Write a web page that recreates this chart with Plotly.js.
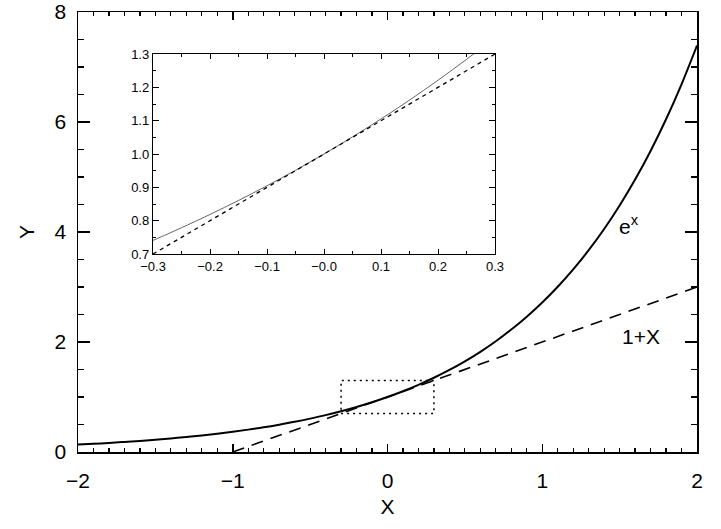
<!DOCTYPE html>
<html>
<head>
<meta charset="utf-8">
<script src="https://cdn.plot.ly/plotly-3.0.1.min.js"></script>
<style>html,body{margin:0;padding:0;background:#fff;}#chart{width:721px;height:529px;}</style>
</head>
<body>
<div id="chart"></div>
<script>
// Main panel: e^x curve
const mainX = [-2.0,-1.9,-1.8,-1.7,-1.6,-1.5,-1.4,-1.3,-1.2,-1.1,-1.0,-0.9,-0.8,-0.7,-0.6,-0.5,-0.4,-0.3,-0.2,-0.1,0.0,
               0.1,0.2,0.3,0.4,0.5,0.6,0.7,0.8,0.9,1.0,1.1,1.2,1.3,1.4,1.5,1.6,1.7,1.8,1.9,2.0];
const mainExpY = [0.135,0.150,0.165,0.183,0.202,0.223,0.247,0.273,0.301,0.333,0.368,0.407,0.449,0.497,0.549,0.607,0.670,0.741,0.819,0.905,1.000,
                  1.105,1.221,1.350,1.492,1.649,1.822,2.014,2.226,2.460,2.718,3.004,3.320,3.669,4.055,4.482,4.953,5.474,6.050,6.686,7.389];
// Main panel: 1+x line
const lineX = [-1.0,-0.5,0.0,0.5,1.0,1.5,2.0];
const lineY = [0.0,0.5,1.0,1.5,2.0,2.5,3.0];
// Inset: e^x zoom
const insetX = [-0.300,-0.275,-0.250,-0.225,-0.200,-0.175,-0.150,-0.125,-0.100,-0.075,-0.050,-0.025,0.000,
                0.025,0.050,0.075,0.100,0.125,0.150,0.175,0.200,0.225,0.250,0.275,0.300];
const insetExpY = [0.7408,0.7596,0.7788,0.7985,0.8187,0.8395,0.8607,0.8825,0.9048,0.9277,0.9512,0.9753,1.0000,
                   1.0253,1.0513,1.0779,1.1052,1.1331,1.1618,1.1912,1.2214,1.2523,1.2840,1.3165,1.3499];
const insetLineX = [-0.3,-0.15,0.0,0.15,0.3];
const insetLineY = [0.7,0.85,1.0,1.15,1.3];
// Axis ranges and tick labels
const mainXRange = [-2, 2];
const mainYRange = [0, 8];
const insetXRange = [-0.3, 0.3];
const insetYRange = [0.7, 1.3];
const mainXTicks = [-2,-1,0,1,2];
const mainXTickText = ['\u22122','\u22121','0','1','2'];
const mainYTicks = [0,2,4,6,8];
const insetXTicks = [-0.3,-0.2,-0.1,0.0,0.1,0.2,0.3];
const insetXTickText = ['\u22120.3','\u22120.2','\u22120.1','\u22120.0','0.1','0.2','0.3'];
const insetYTicks = [0.7,0.8,0.9,1.0,1.1,1.2,1.3];
const insetYTickText = ['0.7','0.8','0.9','1.0','1.1','1.2','1.3'];

const FONT = 'Liberation Sans, Arial, sans-serif';
const INK = '#000';

const traces = [
  {x: mainX, y: mainExpY, mode: 'lines', line: {color: INK, width: 2, shape: 'spline'}, xaxis: 'x', yaxis: 'y', hoverinfo: 'skip'},
  {x: lineX, y: lineY, mode: 'lines', line: {color: INK, width: 1.6, dash: '12px,8px'}, xaxis: 'x', yaxis: 'y', hoverinfo: 'skip'},
  {x: insetX, y: insetExpY, mode: 'lines', line: {color: '#666', width: 1, shape: 'spline'}, xaxis: 'x2', yaxis: 'y2', hoverinfo: 'skip'},
  {x: insetLineX, y: insetLineY, mode: 'lines', line: {color: INK, width: 1.3, dash: '4px,4px'}, xaxis: 'x2', yaxis: 'y2', hoverinfo: 'skip'}
];

const mainAxisCommon = {
  showgrid: false, zeroline: false, showline: true, linecolor: INK, linewidth: 1.5,
  mirror: 'ticks', ticks: 'inside', tickcolor: INK, tickwidth: 1.5,
  tickfont: {family: FONT, size: 21, color: INK}
};
const insetAxisCommon = {
  showgrid: false, zeroline: false, showline: true, linecolor: INK, linewidth: 1.2,
  mirror: 'ticks', ticks: 'inside', tickcolor: INK, tickwidth: 1,
  tickfont: {family: FONT, size: 13, color: INK}
};

const layout = {
  width: 721, height: 529,
  margin: {l: 78, r: 24, t: 12, b: 77},
  paper_bgcolor: '#fff', plot_bgcolor: '#fff',
  showlegend: false,
  xaxis: Object.assign({}, mainAxisCommon, {
    range: mainXRange, tickvals: mainXTicks, ticktext: mainXTickText, ticklen: 8,
    minor: {dtick: 0.1, ticklen: 4, ticks: 'inside', tickcolor: INK, tickwidth: 1.2},
    ticklabelstandoff: 9,
    title: {text: 'X', font: {family: FONT, size: 21, color: INK}, standoff: 8}
  }),
  yaxis: Object.assign({}, mainAxisCommon, {
    range: mainYRange, tickvals: mainYTicks, ticklen: 12,
    minor: {dtick: 0.5, ticklen: 6, ticks: 'inside', tickcolor: INK, tickwidth: 1.2},
    ticklabelstandoff: 6,
    title: {text: 'Y', font: {family: FONT, size: 21, color: INK}, standoff: 14}
  }),
  xaxis2: Object.assign({}, insetAxisCommon, {
    domain: [0.1212, 0.6737], anchor: 'y2',
    range: insetXRange, tickvals: insetXTicks, ticktext: insetXTickText, ticklen: 5,
    minor: {dtick: 0.05, ticklen: 3, ticks: 'inside', tickcolor: INK, tickwidth: 1}
  }),
  yaxis2: Object.assign({}, insetAxisCommon, {
    domain: [0.45, 0.9045], anchor: 'x2',
    range: insetYRange, tickvals: insetYTicks, ticktext: insetYTickText, ticklen: 6,
    minor: {dtick: 0.05, ticklen: 3, ticks: 'inside', tickcolor: INK, tickwidth: 1}
  }),
  shapes: [
    {type: 'rect', xref: 'x', yref: 'y', x0: insetXRange[0], x1: insetXRange[1], y0: insetYRange[0], y1: insetYRange[1],
     line: {color: INK, width: 1.5, dash: '2px,4px'}, fillcolor: 'rgba(0,0,0,0)'}
  ],
  annotations: [
    {xref: 'x', yref: 'y', x: 1.56, y: 4.12, text: 'e<sup>x</sup>', showarrow: false,
     font: {family: FONT, size: 21, color: INK}},
    {xref: 'x', yref: 'y', x: 1.64, y: 2.1, text: '1+X', showarrow: false,
     font: {family: FONT, size: 21, color: INK}}
  ]
};

Plotly.newPlot('chart', traces, layout, {staticPlot: true, displayModeBar: false});
</script>
</body>
</html>
